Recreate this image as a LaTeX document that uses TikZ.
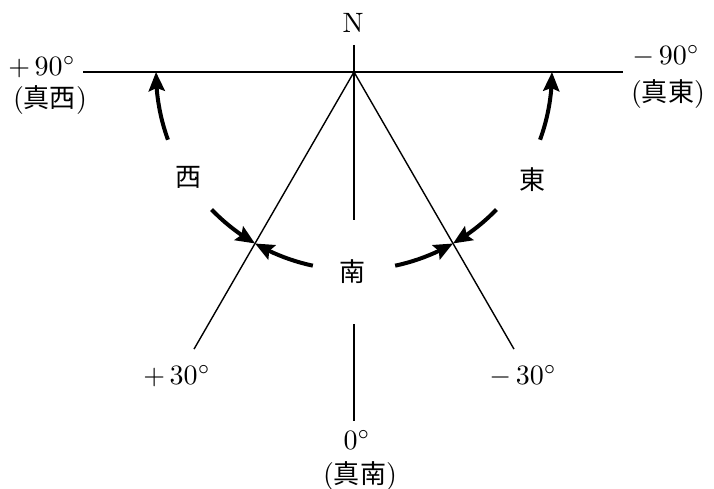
\documentclass[tikz,border=0pt]{standalone}
\usepackage{fontspec}
\newfontfamily\cjk{Noto Sans CJK JP}
\usetikzlibrary{arrows.meta,bending,calc}
\newcommand\cjkin[1]{{\fontsize{9.3}{11}\selectfont\cjk #1}}
\begin{document}
\begin{tikzpicture}[x=1pt,y=1pt,
  lbl/.style={inner sep=0pt,font=\fontsize{10}{12}\selectfont,scale=2.8},
  cjklbl/.style={inner sep=0pt,font=\fontsize{26}{30}\selectfont},
  thinline/.style={line width=1.4pt},
  arcarrow/.style={line width=4pt,-{Stealth[length=19pt,width=16pt,inset=3pt,flex]}}]
\useasboundingbox (0,0) rectangle (714,488);
\coordinate (O) at (354,416);
% lines
\coordinate (hl) at (83,416);
\coordinate (hr) at (623,416);
\coordinate (vt) at (354,443);
\coordinate (vm) at (354,268);
\coordinate (vb1) at (354,164);
\coordinate (vb2) at (354,67);
\coordinate (sl) at ($(O)+(240:320)$);
\coordinate (sr) at ($(O)+(300:320)$);
\draw[thinline] (hl) -- (hr);
\draw[thinline] (vt) -- (vm);
\draw[thinline] (vb1) -- (vb2);
\draw[thinline] (O) -- (sl);
\draw[thinline] (O) -- (sr);
% arcs
\draw[arcarrow] ([shift={(200:198)}]O) arc[start angle=200,end angle=180,radius=198];
\draw[arcarrow] ([shift={(224:198)}]O) arc[start angle=224,end angle=240,radius=198];
\draw[arcarrow] ([shift={(258:198)}]O) arc[start angle=258,end angle=240,radius=198];
\draw[arcarrow] ([shift={(340:198)}]O) arc[start angle=340,end angle=360,radius=198];
\draw[arcarrow] ([shift={(316:198)}]O) arc[start angle=316,end angle=300,radius=198];
\draw[arcarrow] ([shift={(282:198)}]O) arc[start angle=282,end angle=300,radius=198];
% labels
\node[lbl] (n) at (353,465) {N};
\node[lbl] (p90) at (42,421) {$+\,90^\circ$};
\node[lbl] (w) at (50,388) {(\cjkin{真西})};
\node[lbl] (m90) at (666,432) {$-\,90^\circ$};
\node[lbl] (e) at (668,394) {(\cjkin{真東})};
\node[cjklbl] (west) at (188,311) {\cjk 西};
\node[cjklbl] (east) at (532,308) {\cjk 東};
\node[cjklbl] (south) at (352,216) {\cjk 南};
\node[lbl] (p30) at (177,112) {$+\,30^\circ$};
\node[lbl] (m30) at (523,112) {$-\,30^\circ$};
\node[lbl] (z) at (357,48) {$0^\circ$};
\node[lbl] (s) at (360,12) {(\cjkin{真南})};
\end{tikzpicture}
\end{document}
